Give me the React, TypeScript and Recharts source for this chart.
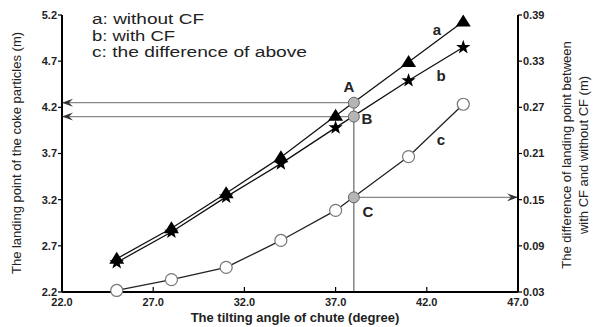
import React from 'react';
import { ComposedChart, Line, XAxis, YAxis, ReferenceLine, ReferenceDot } from 'recharts';

const angles = [25, 28, 31, 34, 37, 41, 44];
const seriesA = [2.56, 2.89, 3.27, 3.66, 4.11, 4.69, 5.13];
const seriesB = [2.52, 2.85, 3.23, 3.59, 3.98, 4.49, 4.85];
const seriesC = [0.032, 0.046, 0.062, 0.097, 0.136, 0.206, 0.274];

const xTicks = [22, 27, 32, 37, 42, 47];
const leftTicks = [2.2, 2.7, 3.2, 3.7, 4.2, 4.7, 5.2];
const rightTicks = [0.03, 0.09, 0.15, 0.21, 0.27, 0.33, 0.39];

const markAngle = 38;
const markA = 4.25;
const markB = 4.1;
const markC = 0.153;

const legendLines = ['a: without CF', 'b: with CF', 'c: the difference of above'];
const legendWidths = [112, 83, 215];
const xTitle = 'The tilting angle of chute (degree)';
const leftTitle = 'The landing point of the coke particles (m)';
const rightTitle = ['The difference of landing point between', 'with CF and without CF (m)'];

const data = angles.map((x, i) => ({ x, a: seriesA[i], b: seriesB[i], c: seriesC[i] }));

const FONT = "Arial, 'Liberation Sans', sans-serif";

const TriangleDot = (p: any) => {
  const { cx, cy, index } = p;
  if (cx == null || cy == null) return <g key={`t${index}`} />;
  return <path key={`t${index}`} d={`M${cx},${cy - 7} L${cx + 7.5},${cy + 5} L${cx - 7.5},${cy + 5} Z`} fill="#000" />;
};

const starPath = (cx: number, cy: number, R: number, r: number) => {
  let d = '';
  for (let k = 0; k < 10; k++) {
    const rad = k % 2 === 0 ? R : r;
    const ang = -Math.PI / 2 + (k * Math.PI) / 5;
    d += (k === 0 ? 'M' : 'L') + (cx + rad * Math.cos(ang)).toFixed(2) + ',' + (cy + rad * Math.sin(ang)).toFixed(2);
  }
  return d + 'Z';
};

const StarDot = (p: any) => {
  const { cx, cy, index } = p;
  if (cx == null || cy == null) return <g key={`s${index}`} />;
  return <path key={`s${index}`} d={starPath(cx, cy, 7.5, 3)} fill="#000" />;
};

const CircleDot = (p: any) => {
  const { cx, cy, index } = p;
  if (cx == null || cy == null) return <g key={`c${index}`} />;
  return <circle key={`c${index}`} cx={cx} cy={cy} r={6} fill="#fff" stroke="#777" strokeWidth={1.2} />;
};

const XTick = (p: any) => {
  const { x, y, payload } = p;
  return (
    <g>
      <line x1={x} y1={y} x2={x} y2={y - 5} stroke="#000" strokeWidth={1.2} />
      <text x={x} y={y + 14} textAnchor="middle" fontFamily={FONT} fontWeight="bold" fontSize={11} fill="#222">
        {Number(payload.value).toFixed(1)}
      </text>
    </g>
  );
};

const makeArrow = (dir: 'left' | 'right') => (p: any) => {
  const { x1, y1, x2, y2 } = p;
  const tipX = dir === 'left' ? Math.min(x1, x2) : Math.max(x1, x2);
  const tipY = y1;
  const s = dir === 'left' ? 1 : -1;
  const pts = `${tipX},${tipY} ${tipX + s * 11},${tipY - 4} ${tipX + s * 7},${tipY} ${tipX + s * 11},${tipY + 4}`;
  return (
    <g>
      <line x1={x1} y1={y1} x2={x2} y2={y2} stroke="#888" strokeWidth={1.2} />
      <polygon points={pts} fill="#333" />
    </g>
  );
};

const plainLine = (p: any) => {
  const { x1, y1, x2, y2 } = p;
  return <line x1={x1} y1={y1} x2={x2} y2={y2} stroke="#666" strokeWidth={1.2} />;
};

const markDot = (label: string, dx: number, dy: number) => (p: any) => {
  const { cx, cy } = p;
  return (
    <g>
      <circle cx={cx} cy={cy} r={5.5} fill="#b5b5b5" stroke="#666" strokeWidth={1} />
      <text x={cx + dx} y={cy + dy} textAnchor="middle" dominantBaseline="central" fontFamily={FONT} fontWeight="bold" fontSize={15} fill="#222">
        {label}
      </text>
    </g>
  );
};

const textOnly = (label: string) => (p: any) => {
  const { cx, cy } = p;
  return (
    <text x={cx} y={cy} textAnchor="middle" dominantBaseline="central" fontFamily={FONT} fontWeight="bold" fontSize={15} fill="#222">
      {label}
    </text>
  );
};

export default function App() {
  return (
    <div style={{ position: 'absolute', left: 0, top: 0, width: 596, height: 327, background: '#fff' }}>
      <ComposedChart width={596} height={327} data={data} margin={{ top: 15, right: 0, bottom: 0, left: 0 }}>
        <XAxis
          dataKey="x"
          type="number"
          domain={[22, 47]}
          ticks={xTicks}
          tickSize={0}
          tickLine={false}
          tickMargin={0}
          height={35}
          axisLine={{ stroke: '#000', strokeWidth: 2 }}
          tick={<XTick />}
          interval={0}
        />
        <YAxis
          yAxisId="left"
          orientation="left"
          domain={[2.2, 5.2]}
          ticks={leftTicks}
          width={62}
          tickSize={4}
          tickMargin={1}
          interval={0}
          axisLine={{ stroke: '#000', strokeWidth: 2 }}
          tickLine={{ stroke: '#000', strokeWidth: 1.2 }}
          tick={{ fontFamily: FONT, fontWeight: 'bold', fontSize: 11, fill: '#222' }}
          tickFormatter={(v: number) => v.toFixed(1)}
        />
        <YAxis
          yAxisId="right"
          orientation="right"
          domain={[0.03, 0.39]}
          ticks={rightTicks}
          width={78}
          tickSize={4}
          tickMargin={1}
          interval={0}
          axisLine={{ stroke: '#000', strokeWidth: 2 }}
          tickLine={{ stroke: '#000', strokeWidth: 1.2 }}
          tick={{ fontFamily: FONT, fontWeight: 'bold', fontSize: 11, fill: '#222' }}
          tickFormatter={(v: number) => v.toFixed(2)}
        />
        <ReferenceLine yAxisId="left" segment={[{ x: markAngle, y: 2.2 }, { x: markAngle, y: markA }]} shape={plainLine} ifOverflow="visible" />
        <ReferenceLine yAxisId="left" segment={[{ x: 22, y: markA }, { x: markAngle, y: markA }]} shape={makeArrow('left')} ifOverflow="visible" />
        <ReferenceLine yAxisId="left" segment={[{ x: 22, y: markB }, { x: markAngle, y: markB }]} shape={makeArrow('left')} ifOverflow="visible" />
        <ReferenceLine yAxisId="right" segment={[{ x: markAngle, y: markC }, { x: 47, y: markC }]} shape={makeArrow('right')} ifOverflow="visible" />
        <Line yAxisId="left" dataKey="a" stroke="#111" strokeWidth={1.3} dot={TriangleDot} isAnimationActive={false} />
        <Line yAxisId="left" dataKey="b" stroke="#111" strokeWidth={1.3} dot={StarDot} isAnimationActive={false} />
        <Line yAxisId="right" dataKey="c" stroke="#222" strokeWidth={1.3} dot={CircleDot} isAnimationActive={false} />
        <ReferenceDot yAxisId="left" x={markAngle} y={markA} shape={markDot('A', -5, -16)} ifOverflow="visible" />
        <ReferenceDot yAxisId="left" x={markAngle} y={markB} shape={markDot('B', 13, 2)} ifOverflow="visible" />
        <ReferenceDot yAxisId="right" x={markAngle} y={markC} shape={markDot('C', 14, 14)} ifOverflow="visible" />
        <ReferenceDot yAxisId="left" x={42.56} y={5.04} shape={textOnly('a')} ifOverflow="visible" />
        <ReferenceDot yAxisId="left" x={42.78} y={4.54} shape={textOnly('b')} ifOverflow="visible" />
        <ReferenceDot yAxisId="right" x={42.78} y={0.2276} shape={textOnly('c')} ifOverflow="visible" />
      </ComposedChart>
      <svg width={596} height={327} style={{ position: 'absolute', left: 0, top: 0, pointerEvents: 'none' }}>
        {legendLines.map((t, i) => (
          <text key={t} x={92} y={24 + i * 16.5} fontFamily={FONT} fontSize={14} fill="#222" textLength={legendWidths[i]} lengthAdjust="spacingAndGlyphs">
            {t}
          </text>
        ))}
        <text x={295} y={322} textAnchor="middle" fontFamily={FONT} fontWeight="bold" fontSize={13} fill="#222">
          {xTitle}
        </text>
        <text x={0} y={0} transform="translate(21,153) rotate(-90)" textAnchor="middle" fontFamily={FONT} fontSize={13} fill="#222">
          {leftTitle}
        </text>
        <text x={0} y={0} transform="translate(571,155) rotate(-90)" textAnchor="middle" fontFamily={FONT} fontSize={13} fill="#222">
          {rightTitle[0]}
        </text>
        <text x={0} y={0} transform="translate(588,155) rotate(-90)" textAnchor="middle" fontFamily={FONT} fontSize={13} fill="#222">
          {rightTitle[1]}
        </text>
      </svg>
    </div>
  );
}
